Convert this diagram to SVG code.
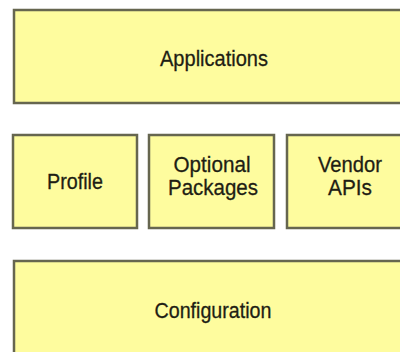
<svg xmlns="http://www.w3.org/2000/svg" width="400" height="352" viewBox="0 0 400 352">
<style>
.box{fill:#fefc9e;stroke:#66664f;stroke-width:2.5}
.lbl{font-family:"Liberation Sans",Arial,sans-serif;font-size:22.5px;fill:#1e1e14;stroke:#1e1e14;stroke-width:0.3;text-anchor:middle}
</style>
<rect width="400" height="352" fill="#ffffff"/>
<g id="connectors"></g>
<g id="applications">
<rect class="box" x="14" y="10" width="400" height="93"/>
<text class="lbl" x="214" y="66" textLength="108" lengthAdjust="spacingAndGlyphs">Applications</text>
</g>
<g id="profile">
<rect class="box" x="13" y="135" width="124" height="93"/>
<text class="lbl" x="75" y="189" textLength="56" lengthAdjust="spacingAndGlyphs">Profile</text>
</g>
<g id="optional-packages">
<rect class="box" x="149" y="135" width="125" height="93"/>
<text class="lbl" x="212" y="172" textLength="77" lengthAdjust="spacingAndGlyphs">Optional</text>
<text class="lbl" x="213" y="195" textLength="90" lengthAdjust="spacingAndGlyphs">Packages</text>
</g>
<g id="vendor-apis">
<rect class="box" x="287" y="135" width="126" height="93"/>
<text class="lbl" x="350" y="172" textLength="64" lengthAdjust="spacingAndGlyphs">Vendor</text>
<text class="lbl" x="350" y="195" textLength="44" lengthAdjust="spacingAndGlyphs">APIs</text>
</g>
<g id="configuration">
<rect class="box" x="14" y="261" width="400" height="100"/>
<text class="lbl" x="213" y="318" textLength="117" lengthAdjust="spacingAndGlyphs">Configuration</text>
</g>
</svg>
